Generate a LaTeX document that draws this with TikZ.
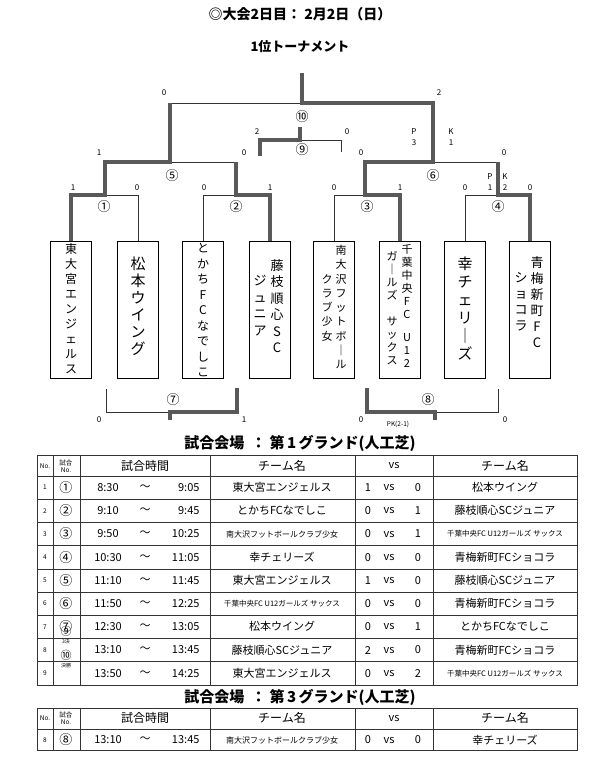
\documentclass[tikz,border=0pt]{standalone}
\usepackage{fontspec}
\setmainfont{Noto Sans CJK JP}
\usetikzlibrary{positioning}

\tikzset{
	thin/.style={line width=0.6pt, black!80},
	win/.style={line width=3.4pt, black!65},
	teambox/.style={draw, line width=0.6pt, minimum width=41, minimum height=137, inner sep=0pt},
	tate/.style={align=center, inner sep=0pt, anchor=north, font=\fontsize{12}{15}\selectfont},
	score/.style={font=\fontsize{8}{9}\selectfont},
	cell/.style={font=\fontsize{11}{12}\selectfont},
	small/.style={font=\fontsize{6.5}{7}\selectfont},
}

\begin{document}
\begin{tikzpicture}[x=1pt, y=-1pt]
		\useasboundingbox (0,0) rectangle (600,780);
		% titles
		\node (title) at (300,14) {\fontsize{14}{15}\selectfont\bfseries ◎大会2日目：\ 2月2日（日）};
		\node (sub) at (300,47) {\fontsize{13}{14}\selectfont\bfseries 1位トーナメント};

		% team boxes
		\node[teambox] (t1) at (71,309.5) {};
		\node[teambox] (t2) at (138,309.5) {};
		\node[teambox] (t3) at (203,309.5) {};
		\node[teambox] (t4) at (270,309.5) {};
		\node[teambox] (t5) at (334,309.5) {};
		\node[teambox] (t6) at (400,309.5) {};
		\node[teambox] (t7) at (465,309.5) {};
		\node[teambox] (t8) at (530,309.5) {};
		\node[tate, font=\fontsize{12}{15}\selectfont] at (71,243) {東\\大\\宮\\エ\\ン\\ジ\\ェ\\ル\\ス};
		\node[tate, font=\fontsize{15}{17}\selectfont] at (138,257) {松\\本\\ウ\\イ\\ン\\グ};
		\node[tate, font=\fontsize{12}{15.5}\selectfont] at (203,243) {と\\か\\ち\\F\\C\\な\\で\\し\\こ};
		\node[tate, font=\fontsize{13}{16.5}\selectfont] at (277,259) {藤\\枝\\順\\心\\S\\C};
		\node[tate, font=\fontsize{13}{16.5}\selectfont] at (260,275) {ジ\\ュ\\ニ\\ア};
		\node[tate, font=\fontsize{11}{14.3}\selectfont] at (341,245) {南\\大\\沢\\フ\\ッ\\ト\\ボ\\｜\\ル};
		\node[tate, font=\fontsize{11}{14.3}\selectfont] at (327,274) {ク\\ラ\\ブ\\少\\女};
		\node[tate, font=\fontsize{11}{13}\selectfont] at (407,244) {千\\葉\\中\\央\\F\\C\\[10pt]U\\1\\2};
		\node[tate, font=\fontsize{11}{13}\selectfont] at (392,251) {ガ\\｜\\ル\\ズ\\[13pt]サ\\ッ\\ク\\ス};
		\node[tate, font=\fontsize{15}{18}\selectfont] at (465,257) {幸\\チ\\ェ\\リ\\｜\\ズ};
		\node[tate, font=\fontsize{13}{16}\selectfont] at (537,256) {青\\梅\\新\\町\\F\\C};
		\node[tate, font=\fontsize{13}{16}\selectfont] at (521,272) {シ\\ョ\\コ\\ラ};

		% losers
		\draw[thin] (t2.north) |- (105,195);
		\draw[thin] (t3.north) |- (236,195);
		\draw[thin] (t5.north) |- (365,195);
		\draw[thin] (t7.north) |- (498,195);
		\draw[thin] (170,162) -- (236,162);
		\draw[thin] (433,162) -- (498,162);
		\draw[thin] (170,103) -- (302,103);
		% winners
		\draw[win] (t1.north) -- (71,195) -- (105,195) -- (105,162) -- (170,162) -- (170,103);
		\draw[win] (t4.north) -- (270,195) -- (236,195) -- (236,162);
		\draw[win] (t6.north) -- (400,195) -- (365,195) -- (365,162) -- (433,162) -- (433,103) -- (302,103) -- (302,73);
		\draw[win] (t8.north) -- (530,195) -- (498,195) -- (498,162);
		% third place
		\draw[thin] (300,140) -- (341,140) -- (341,152);
		\draw[win] (300,127) -- (300,140) -- (260,140) -- (260,156);
		% lower matches
		\draw[thin] (106,389) -- (106,412) -- (170,412);
		\draw[win] (170,420) -- (170,412) -- (237,412) -- (237,388);
		\draw[thin] (435,412) -- (498,412) -- (498,389);
		\draw[win] (367,388) -- (367,412) -- (435,412) -- (435,420);

		% match numbers
		\foreach \n/\x/\y in {①/104/207, ②/236/207, ③/367/207, ④/498/207, ⑤/172/176, ⑥/433/176, ⑨/302/150, ⑩/302/117, ⑦/173/400, ⑧/428/400}
			\node[font=\fontsize{13}{14}\selectfont] at (\x,\y) {\n};

		% scores
		\foreach \s/\x/\y in {1/73/188, 0/137/188, 0/204/188, 1/270/188, 0/334/188, 1/400/188, 0/465/188, 0/530/188,
			1/99/153, 0/244/153, 0/361/153, 0/504/153, 0/164/93, 2/439/93, 2/257/132, 0/347/132,
			0/99/420, 1/244/420, 0/361/420, 0/505/420, P/414/132, 3/414/143, K/451/132, 1/451/143,
			P/490/177, 1/490/188, K/505/177, 2/505/188}
			\node[score] at (\x,\y) {\s};
		\node[small] (pk) at (398,424) {PK(2-1)};

		% table 1
		\node (g1) at (300,443) {\fontsize{15}{16}\selectfont\bfseries 試合会場\ \ ：\ 第\,1\,グランド(人工芝)};
		\draw[thin] (37,455) rectangle (577,685);
		\foreach \k in {0,...,8} \draw[thin] (37,476+23.2*\k) -- (577,476+23.2*\k);
		\foreach \x in {53,80,210,355,433} \draw[thin] (\x,455) -- (\x,685);
		\node[small] at (45,466) {No.};
		\node[small, align=center] at (66,466) {試合\\No.};
		\node[cell, font=\fontsize{12}{13}\selectfont] at (145,466) {試合時間};
		\node[cell, font=\fontsize{12}{13}\selectfont] at (282,466) {チーム名};
		\node[cell] at (394,466) {vs};
		\node[cell, font=\fontsize{12}{13}\selectfont] at (505,466) {チーム名};
		\foreach \r/\m/\a/\b/\p/\q/\u/\v [count=\i] in {
			1/①/8:30/9:05/東大宮エンジェルス/1/0/松本ウイング,
			2/②/9:10/9:45/とかちFCなでしこ/0/1/藤枝順心SCジュニア,
			3/③/9:50/10:25/{\fontsize{8}{9}\selectfont 南大沢フットボールクラブ少女}/0/1/{\fontsize{7.5}{8}\selectfont 千葉中央FC U12ガールズ サックス},
			4/④/10:30/11:05/幸チェリーズ/0/0/青梅新町FCショコラ,
			5/⑤/11:10/11:45/東大宮エンジェルス/1/0/藤枝順心SCジュニア,
			6/⑥/11:50/12:25/{\fontsize{7.5}{8}\selectfont 千葉中央FC U12ガールズ サックス}/0/0/青梅新町FCショコラ,
			7/⑦/12:30/13:05/松本ウイング/0/1/とかちFCなでしこ,
			8/⑨/13:10/13:45/藤枝順心SCジュニア/2/0/青梅新町FCショコラ,
			9/⑩/13:50/14:25/東大宮エンジェルス/0/2/{\fontsize{7.5}{8}\selectfont 千葉中央FC U12ガールズ サックス}} {
			\pgfmathsetmacro\ry{476+23.2*(\i-0.5)}
			\node[small] at (45,\ry) {\r};
			\node[cell] at (108,\ry) {\a};
			\node[cell] at (145,\ry) {〜};
			\node[cell, anchor=east] at (203,\ry) {\b};
			\node[cell] at (282,\ry) {\p};
			\node[cell] at (368,\ry) {\q};
			\node[cell] at (389,\ry) {vs};
			\node[cell] at (418,\ry) {\u};
			\node[cell] at (505,\ry) {\v};
		}
		\foreach \m/\i in {①/1, ②/2, ③/3, ④/4, ⑤/5, ⑥/6, ⑦/7}
			\node[cell, font=\fontsize{13}{14}\selectfont] at (66,476+23.2*\i-11.6) {\m};
		\node[cell] at (66,631) {⑨};
		\node[font=\fontsize{5}{5}\selectfont] at (66,642) {3決};
		\node[cell] at (66,655) {⑩};
		\node[font=\fontsize{5}{5}\selectfont] at (66,666) {決勝};

		% table 2
		\node (g3) at (300,697) {\fontsize{15}{16}\selectfont\bfseries 試合会場\ \ ：\ 第\,3\,グランド(人工芝)};
		\draw[thin] (37,708) rectangle (577,750);
		\draw[thin] (37,729) -- (577,729);
		\foreach \x in {53,80,210,355,433} \draw[thin] (\x,708) -- (\x,750);
		\node[small] at (45,718) {No.};
		\node[small, align=center] at (66,718) {試合\\No.};
		\node[cell, font=\fontsize{12}{13}\selectfont] at (145,718) {試合時間};
		\node[cell, font=\fontsize{12}{13}\selectfont] at (282,718) {チーム名};
		\node[cell] at (394,718) {vs};
		\node[cell, font=\fontsize{12}{13}\selectfont] at (505,718) {チーム名};
		\node[small] at (45,740) {8};
		\node[cell, font=\fontsize{13}{14}\selectfont] at (66,740) {⑧};
		\node[cell] at (108,740) {13:10};
		\node[cell] at (145,740) {〜};
		\node[cell, anchor=east] at (203,740) {13:45};
		\node[cell] at (282,740) {\fontsize{8}{9}\selectfont 南大沢フットボールクラブ少女};
		\node[cell] at (368,740) {0};
		\node[cell] at (389,740) {vs};
		\node[cell] at (418,740) {0};
		\node[cell] at (505,740) {幸チェリーズ};
	\end{tikzpicture}
\end{document}
